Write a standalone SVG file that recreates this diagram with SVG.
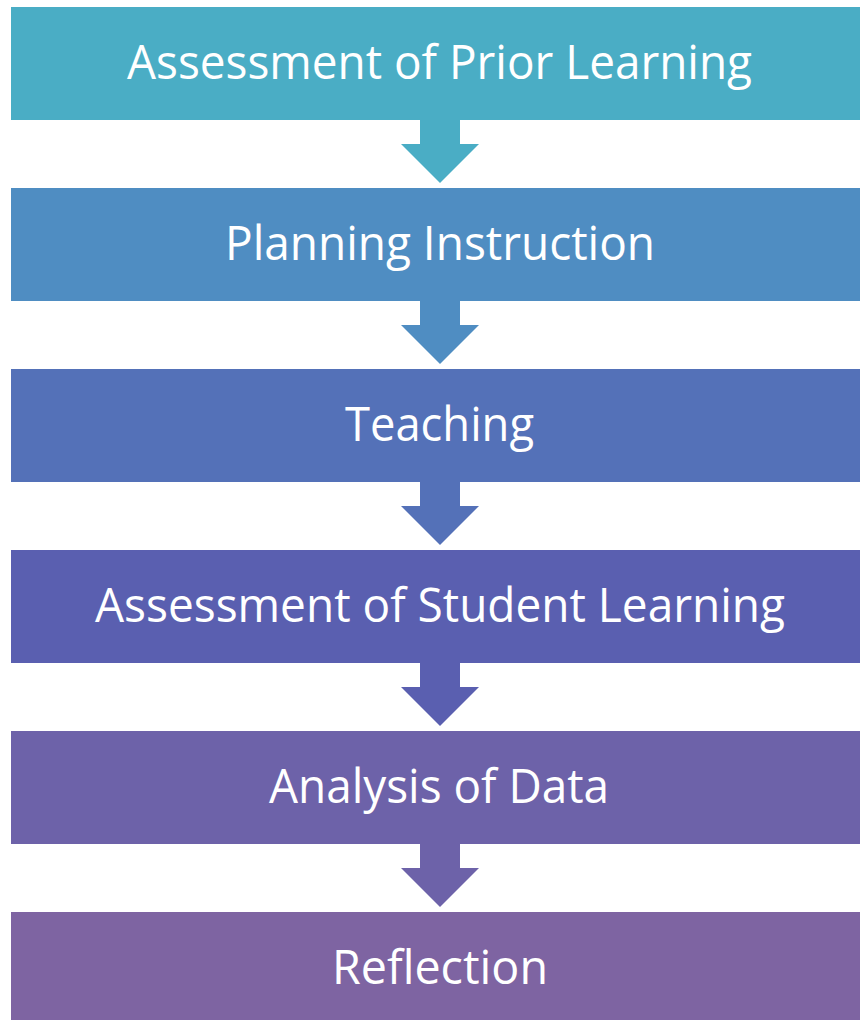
<svg xmlns="http://www.w3.org/2000/svg" width="860" height="1020" viewBox="0 0 860 1020">
<style>
.lbl{font-family:"Open Sans","Liberation Sans",sans-serif;font-size:48px;fill:#ffffff;text-anchor:middle}
</style>
<rect width="860" height="1020" fill="#ffffff"/>
<g id="connectors">
<path d="M420 120H460V144H479L440 183L401 144H420Z" fill="#4aadc5"/>
<path d="M420 301H460V325H479L440 364L401 325H420Z" fill="#4f8dc2"/>
<path d="M420 482H460V506H479L440 545L401 506H420Z" fill="#5471b8"/>
<path d="M420 663H460V687H479L440 726L401 687H420Z" fill="#5a5fb0"/>
<path d="M420 844H460V868H479L440 907L401 868H420Z" fill="#6d62a9"/>
</g>
<g id="n1"><rect x="11" y="7" width="849" height="113" fill="#4aadc5"/><text class="lbl" x="439.5" y="79" textLength="625" lengthAdjust="spacingAndGlyphs">Assessment of Prior Learning</text></g>
<g id="n2"><rect x="11" y="188" width="849" height="113" fill="#4f8dc2"/><text class="lbl" x="440" y="260" textLength="430" lengthAdjust="spacingAndGlyphs">Planning Instruction</text></g>
<g id="n3"><rect x="11" y="369" width="849" height="113" fill="#5471b8"/><text class="lbl" x="439.5" y="441" textLength="189" lengthAdjust="spacingAndGlyphs">Teaching</text></g>
<g id="n4"><rect x="11" y="550" width="849" height="113" fill="#5a5fb0"/><text class="lbl" x="440" y="622" textLength="690" lengthAdjust="spacingAndGlyphs">Assessment of Student Learning</text></g>
<g id="n5"><rect x="11" y="731" width="849" height="113" fill="#6d62a9"/><text class="lbl" x="439" y="803" textLength="340" lengthAdjust="spacingAndGlyphs">Analysis of Data</text></g>
<g id="n6"><rect x="11" y="912" width="849" height="108" fill="#7e64a2"/><text class="lbl" x="440" y="984" textLength="216" lengthAdjust="spacingAndGlyphs">Reflection</text></g>
</svg>
